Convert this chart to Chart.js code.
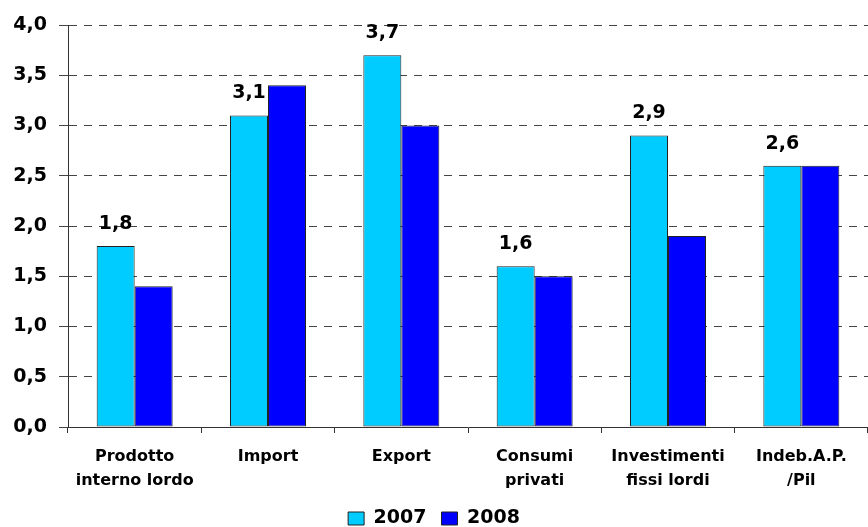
<!DOCTYPE html>
<html>
<head>
<meta charset="utf-8">
<script src="https://cdn.jsdelivr.net/npm/chart.js@4.4.0/dist/chart.umd.min.js"></script>
<style>
  html, body { margin: 0; padding: 0; background: #fff; }
</style>
</head>
<body>
<canvas id="chart" width="868" height="527"></canvas>
<script>
const categories = [
  ['Prodotto', 'interno lordo'],
  'Import',
  'Export',
  ['Consumi', 'privati'],
  ['Investimenti', 'fissi lordi'],
  ['Indeb.A.P.', '/Pil']
];
const values2007 = [1.8, 3.1, 3.7, 1.6, 2.9, 2.6];
const values2008 = [1.4, 3.4, 3.0, 1.5, 1.9, 2.6];

const FONT = '"DejaVu Sans", Verdana, sans-serif';
const fmt = v => v.toFixed(1).replace('.', ',');

// value labels above the 2007 bars only
const topLabels = {
  id: 'topLabels',
  afterDatasetsDraw(chart) {
    const ctx = chart.ctx;
    const meta = chart.getDatasetMeta(0);
    ctx.save();
    ctx.font = 'bold 19px ' + FONT;
    ctx.fillStyle = '#000';
    ctx.textAlign = 'center';
    ctx.textBaseline = 'middle';
    meta.data.forEach((bar, i) => {
      ctx.fillText(fmt(values2007[i]), bar.x, bar.y - 22);
    });
    ctx.restore();
  }
};

const chart = new Chart(document.getElementById('chart'), {
  type: 'bar',
  data: {
    labels: categories,
    datasets: [{
      label: '2007',
      data: values2007,
      backgroundColor: '#00CCFF',
      borderColor: '#222222',
      borderWidth: 1,
      borderSkipped: false
    }, {
      label: '2008',
      data: values2008,
      backgroundColor: '#0000FF',
      borderColor: '#222222',
      borderWidth: 1,
      borderSkipped: false
    }]
  },
  options: {
    responsive: false,
    animation: false,
    layout: { padding: { top: 25, right: 0, left: 0, bottom: -11 } },
    datasets: {
      bar: { categoryPercentage: 0.57, barPercentage: 1.0 }
    },
    plugins: {
      legend: {
        position: 'bottom',
        labels: {
          color: '#000',
          font: { family: FONT, size: 19, weight: 'bold' },
          boxWidth: 16,
          boxHeight: 13,
          padding: 15
        }
      },
      tooltip: { enabled: false }
    },
    scales: {
      x: {
        grid: {
          offset: true,
          drawOnChartArea: false,
          color: '#333',
          tickLength: 6
        },
        border: { color: '#333', width: 1 },
        ticks: {
          color: '#000',
          padding: 11,
          maxRotation: 0,
          font: { family: FONT, size: 16, weight: 'bold', lineHeight: 1.55 }
        },
        afterFit(scale) { scale.height = 67; }
      },
      y: {
        min: 0,
        max: 4,
        grid: {
          color: '#444',
          tickLength: 9,
          tickBorderDash: [],
          lineWidth: 1
        },
        border: { color: '#333', width: 1, dash: [8, 7] },
        ticks: {
          stepSize: 0.5,
          color: '#000',
          padding: 12,
          font: { family: FONT, size: 19, weight: 'bold' },
          callback: v => fmt(v)
        },
        afterFit(scale) { scale.width = 68; }
      }
    }
  },
  plugins: [topLabels]
});
</script>
</body>
</html>
